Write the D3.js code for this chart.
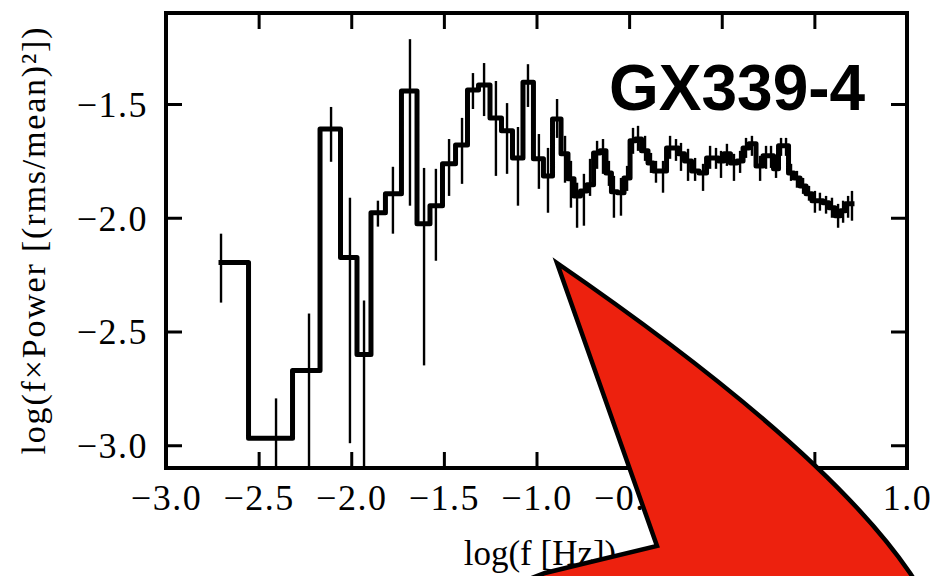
<!DOCTYPE html>
<html><head><meta charset="utf-8">
<script src="https://cdn.jsdelivr.net/npm/d3@7"></script>
<style>
  body { margin: 0; background: #fff; }
  svg { display: block; }
</style>
</head><body>
<svg id="chart" width="936" height="576"></svg>
<script>
// Power spectrum of GX339-4: log frequency vs log(f x Power), with 1-sigma bars
const logFreq = [-2.703,-2.406,-2.228,-2.109,-2.007,-1.931,-1.856,-1.775,-1.683,-1.607,
  -1.543,-1.472,-1.402,-1.343,-1.283,-1.219,-1.159,-1.100,-1.046,-0.987,
  -0.938,-0.889,-0.846,-0.814,-0.781,-0.744,-0.711,-0.673,-0.641,-0.609,
  -0.582,-0.544,-0.511,-0.479,-0.452,-0.414,-0.382,-0.355,-0.317,-0.279,
  -0.247,-0.220,-0.182,-0.144,-0.101,-0.063,-0.031,-0.004,0.028,0.066,
  0.099,0.131,0.163,0.207,0.239,0.266,0.293,0.320,0.347,0.374,
  0.406,0.439,0.471,0.503,0.530,0.563,0.595,0.628,0.655,0.682,0.703];
const logPower = [-2.197,-2.969,-2.671,-1.610,-2.175,-2.601,-1.978,-1.895,-1.443,-2.026,
  -1.947,-1.763,-1.680,-1.439,-1.417,-1.561,-1.618,-1.737,-1.404,-1.741,
  -1.816,-1.566,-1.719,-1.829,-1.904,-1.882,-1.855,-1.715,-1.706,-1.803,
  -1.886,-1.890,-1.825,-1.662,-1.654,-1.706,-1.759,-1.794,-1.794,-1.693,
  -1.693,-1.719,-1.750,-1.794,-1.803,-1.737,-1.737,-1.750,-1.719,-1.759,
  -1.750,-1.693,-1.675,-1.772,-1.728,-1.728,-1.785,-1.684,-1.684,-1.803,
  -1.825,-1.860,-1.895,-1.925,-1.925,-1.934,-1.956,-1.991,-1.969,-1.939,-1.939];
const errUpper = [-2.070,-2.794,-2.421,-1.513,-1.912,-2.364,-1.925,-1.776,-1.215,-1.781,
  -1.785,-1.654,-1.561,-1.364,-1.320,-1.399,-1.496,-1.601,-1.325,-1.632,
  -1.693,-1.478,-1.640,-1.750,-1.846,-1.807,-1.741,-1.662,-1.654,-1.750,
  -1.816,-1.825,-1.772,-1.605,-1.596,-1.640,-1.715,-1.750,-1.750,-1.640,
  -1.654,-1.671,-1.697,-1.737,-1.763,-1.684,-1.693,-1.706,-1.675,-1.719,
  -1.706,-1.649,-1.640,-1.728,-1.684,-1.684,-1.750,-1.649,-1.649,-1.763,
  -1.794,-1.825,-1.860,-1.882,-1.890,-1.904,-1.912,-1.939,-1.925,-1.904,-1.882];
const errLower = [-2.373,-3.5,-3.5,-1.754,-2.991,-3.5,-2.039,-2.070,-1.947,-2.649,
  -2.189,-1.904,-1.851,-1.522,-1.553,-1.816,-1.807,-1.947,-1.513,-1.873,
  -1.978,-1.649,-1.846,-1.956,-2.044,-2.035,-1.904,-1.785,-1.807,-1.860,
  -2.000,-1.991,-1.882,-1.719,-1.706,-1.750,-1.803,-1.846,-1.890,-1.741,
  -1.750,-1.794,-1.838,-1.838,-1.882,-1.785,-1.785,-1.825,-1.772,-1.838,
  -1.803,-1.737,-1.728,-1.838,-1.785,-1.781,-1.825,-1.728,-1.728,-1.838,
  -1.868,-1.895,-1.925,-1.978,-1.969,-1.982,-2.000,-2.044,-2.022,-2.000,-2.013];

const xTicks = [-3.0, -2.5, -2.0, -1.5, -1.0, -0.5, 0.0, 0.5, 1.0];
const yTicks = [-3.0, -2.5, -2.0, -1.5];
const sourceName = "GX339-4";
const xTitle = "log(f [Hz])";
const yTitle = "log(f\u00D7Power [(rms/mean)\u00B2])";

const svg = d3.select("#chart");
const plot = { left: 166, right: 907, top: 13, bottom: 468 };
const x = d3.scaleLinear().domain([-3, 1]).range([plot.left, plot.right]);
const y = d3.scaleLinear().domain([-3.1, -1.1]).range([plot.bottom, plot.top]);
const fmt = d3.format(".1f");
const serif = "'Liberation Serif', 'Times New Roman', serif";

const data = logFreq.map((f, i) => ({ f, p: logPower[i], hi: errUpper[i], lo: errLower[i] }));

svg.append("defs").append("clipPath").attr("id", "plotClip")
  .append("rect")
  .attr("x", plot.left).attr("y", plot.top)
  .attr("width", plot.right - plot.left).attr("height", plot.bottom - plot.top);

const dataLayer = svg.append("g").attr("clip-path", "url(#plotClip)");

// error bars
dataLayer.selectAll("line.err").data(data).join("line")
  .attr("class", "err")
  .attr("x1", d => x(d.f)).attr("x2", d => x(d.f))
  .attr("y1", d => y(d.hi)).attr("y2", d => y(d.lo))
  .attr("stroke", "#000").attr("stroke-width", 2.4);

// stepped spectrum
const step = d3.line().x(d => x(d.f)).y(d => y(d.p)).curve(d3.curveStep);
dataLayer.append("path").datum(data)
  .attr("d", step)
  .attr("fill", "none").attr("stroke", "#000")
  .attr("stroke-width", 5)
  .attr("stroke-linejoin", "round").attr("stroke-linecap", "square");

// axes with inward ticks on all four sides
function styleAxis(g) {
  g.select(".domain").remove();
  g.selectAll(".tick line").attr("stroke", "#000").attr("stroke-width", 3);
  g.selectAll(".tick text").attr("fill", "#000")
    .style("font-family", serif).style("font-size", "36px")
    .style("letter-spacing", "1.5px");
}
const tick = 16;
svg.append("g").attr("transform", `translate(0,${plot.bottom})`)
  .call(d3.axisBottom(x).tickValues(xTicks).tickSize(-tick).tickPadding(0).tickFormat(fmt))
  .call(styleAxis)
  .call(g => g.selectAll(".tick text").attr("y", 42).attr("dy", null));
svg.append("g").attr("transform", `translate(0,${plot.top})`)
  .call(d3.axisTop(x).tickValues(xTicks).tickSize(-tick).tickFormat(() => ""))
  .call(styleAxis);
svg.append("g").attr("transform", `translate(${plot.left},0)`)
  .call(d3.axisLeft(y).tickValues(yTicks).tickSize(-tick).tickPadding(18).tickFormat(fmt))
  .call(styleAxis)
  .call(g => g.selectAll(".tick text").attr("dy", "0.34em"));
svg.append("g").attr("transform", `translate(${plot.right},0)`)
  .call(d3.axisRight(y).tickValues(yTicks).tickSize(-tick).tickFormat(() => ""))
  .call(styleAxis);

// frame
svg.append("rect")
  .attr("x", plot.left).attr("y", plot.top)
  .attr("width", plot.right - plot.left).attr("height", plot.bottom - plot.top)
  .attr("fill", "none").attr("stroke", "#000").attr("stroke-width", 4);

// axis titles
svg.append("text")
  .attr("x", 540).attr("y", 565)
  .attr("text-anchor", "middle")
  .style("font-family", serif).style("font-size", "35px")
  .text(xTitle);
svg.append("text")
  .attr("transform", "translate(45,241) rotate(-90)")
  .attr("text-anchor", "middle")
  .attr("textLength", 427).attr("lengthAdjust", "spacing")
  .style("font-family", serif).style("font-size", "34px")
  .text(yTitle);

// source label
svg.append("text")
  .attr("x", 609).attr("y", 110)
  .style("font-family", "'Liberation Sans', Arial, Helvetica, sans-serif")
  .style("font-weight", "bold").style("font-size", "64px")
  .text(sourceName);

// red pointer overlay
svg.append("path")
  .attr("d", "M557,263 L657,546 L545,573 L500,590 L520,640 L980,640 L930,604 L910,573 Q823,446 557,263 Z")
  .attr("fill", "#ED210E")
  .attr("stroke", "#000").attr("stroke-width", 4.5)
  .attr("stroke-linejoin", "miter").attr("stroke-miterlimit", 20);
</script>
</body></html>
